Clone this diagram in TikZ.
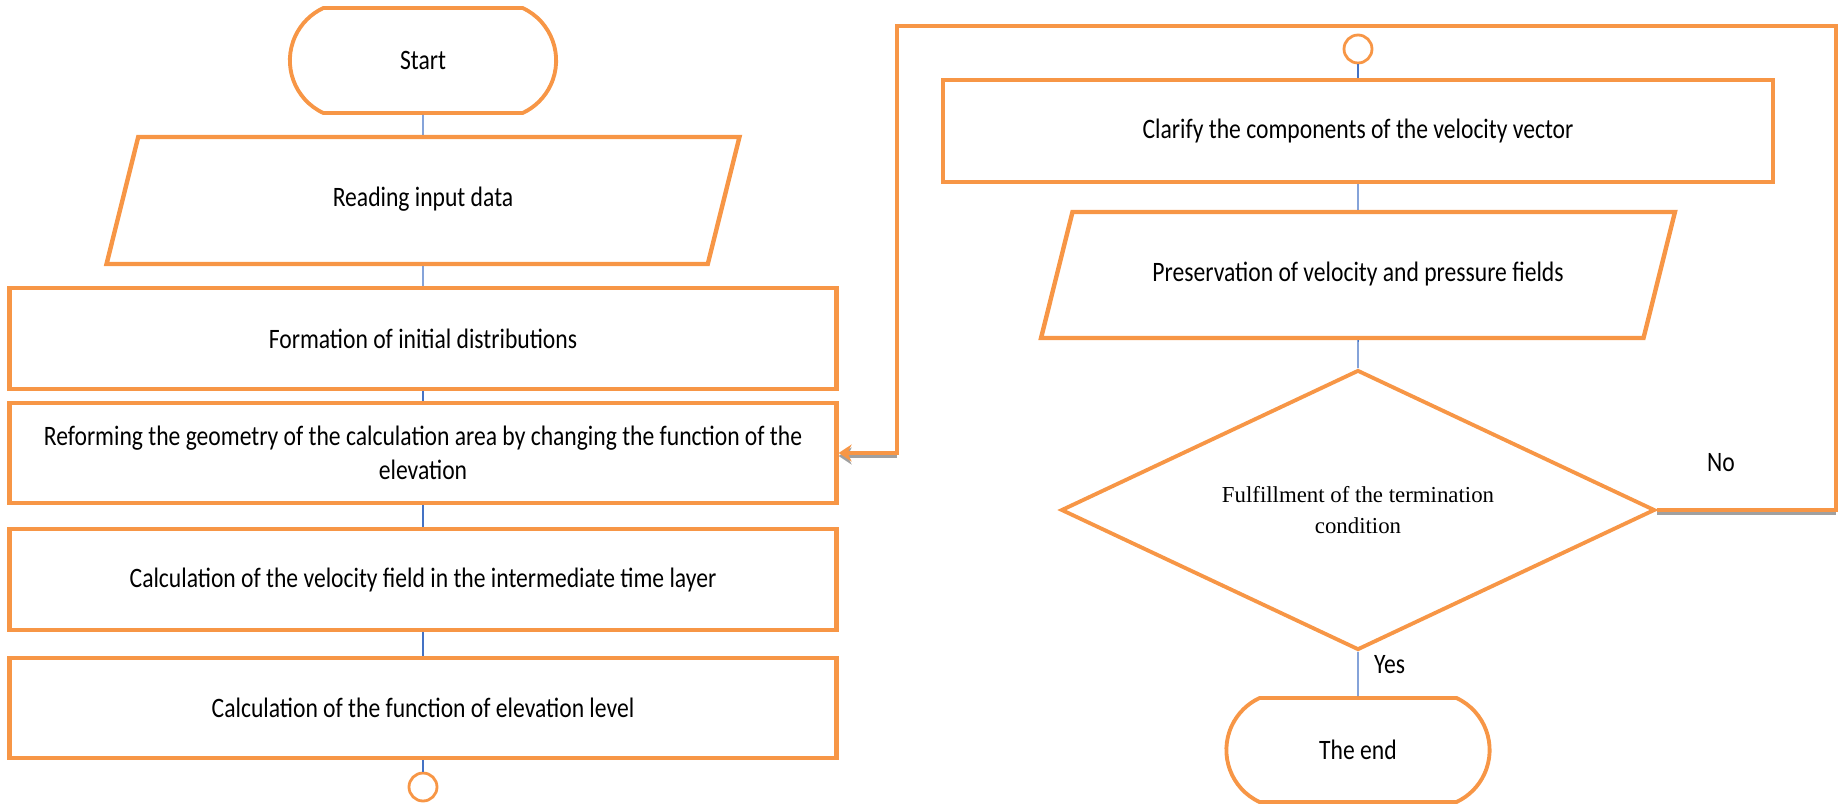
\documentclass[tikz,border=0pt]{standalone}
\usepackage{fontspec}
\setmainfont{Carlito}[FakeStretch=0.84]
\newfontfamily\condfont{Liberation Serif}
\usetikzlibrary{shapes.geometric,shapes.misc,arrows.meta}

\definecolor{boxorange}{RGB}{247,150,70}
\definecolor{linkblue}{RGB}{68,114,196}
\definecolor{shadegray}{RGB}{160,160,160}

\begin{document}
\begin{tikzpicture}[x=0.02cm, y=-0.02cm, >={Stealth[length=2.6mm,width=3.4mm]},
  txt/.style={font=\fontsize{16}{19.5}\selectfont},
  box/.style={txt, draw=boxorange, line width=2.5pt, rectangle, align=center,
    minimum width=16.54cm, minimum height=2.02cm, inner sep=0pt},
  io/.style={txt, draw=boxorange, line width=2.5pt, trapezium,
    trapezium left angle=76, trapezium right angle=104, trapezium stretches body,
    text height=0.35cm, text depth=0.1cm, inner xsep=0pt, inner ysep=1.045cm,
    minimum width=12.66cm},
  term/.style={txt, draw=boxorange, line width=2.2pt, rounded rectangle,
    rounded rectangle arc length=130, minimum width=5.56cm, minimum height=2.1cm},
  conn/.style={draw=boxorange, line width=1.6pt, circle, minimum size=0.56cm, inner sep=0pt},
  link/.style={draw=linkblue, line width=0.8pt},
  loopline/.style={draw=boxorange, line width=2.5pt},
  shade/.style={draw=shadegray, line width=2.5pt}]

  \useasboundingbox (0,0) rectangle (1843,806);

  % Left column
  \node[term] (start) at (423,60.5) {Start};
  \node[io] (read) at (423,200.5) {Reading input data};
  \node[box] (form) at (423,338.5) {Formation of initial distributions};
  \node[box, minimum height=2.0cm] (reform) at (423,453)
    {Reforming the geometry of the calculation area by changing the function of the\\elevation};
  \node[box] (veloc) at (423,579.5) {Calculation of the velocity field in the intermediate time layer};
  \node[box, minimum height=2.0cm] (elev) at (423,708) {Calculation of the function of elevation level};
  \node[conn] (cA) at (423,787) {};

  % Right column
  \node[conn] (cB) at (1358,49) {};
  \node[box, minimum width=16.6cm, minimum height=2.04cm] (clar) at (1358,131)
    {Clarify the components of the velocity vector};
  \node[io, minimum width=12.68cm, inner ysep=1.035cm] (pres) at (1358,275)
    {Preservation of velocity and pressure fields};
  \node[draw=boxorange, line width=2.2pt, diamond, aspect=2.1, minimum width=11.88cm,
    minimum height=5.6cm, inner sep=0pt, align=center,
    font=\condfont\fontsize{13}{18}\selectfont] (cond) at (1358,510)
    {Fulfillment of the termination\\condition};
  \node[term, minimum width=5.5cm, minimum height=2.08cm] (endn) at (1358,750) {The end};

  % Labels
  \node[txt] (no) at (1721,463) {No};
  \node[txt, anchor=west] (yes) at (1368,665) {Yes};

  % Connectors
  \draw[link] (start) -- (read);
  \draw[link] (read) -- (form);
  \draw[link] (form) -- (reform);
  \draw[link] (reform) -- (veloc);
  \draw[link] (veloc) -- (elev);
  \draw[link] (elev) -- (cA);
  \draw[link] (cB) -- (clar);
  \draw[link] (clar) -- (pres);
  \draw[link] (pres) -- (cond);
  \draw[link] (cond) -- (endn);

  % Loop back
  \coordinate (rgt) at (1836,510);
  \coordinate (topr) at (1836,26);
  \coordinate (topl) at (897,26);
  \coordinate (lft) at (897,453);
  \draw[shade] ([yshift=-0.06cm]cond.east) -- ([yshift=-0.06cm]rgt);
  \draw[shade, ->] ([yshift=-0.06cm]lft) -- ([yshift=-0.06cm]reform.east);
  \draw[loopline, ->] (cond.east) -- (rgt) -- (topr) -- (topl) -- (lft) -- (reform.east);
\end{tikzpicture}
\end{document}
